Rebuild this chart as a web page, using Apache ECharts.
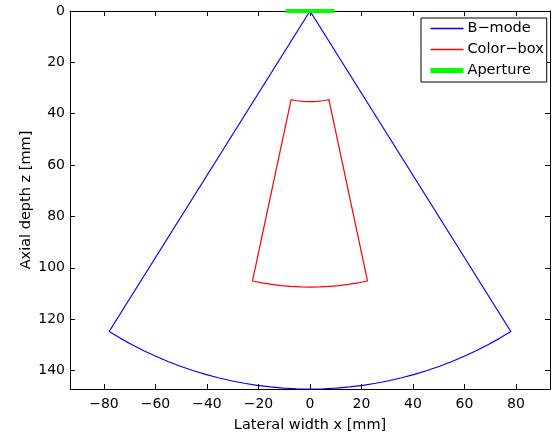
<!DOCTYPE html>
<html>
<head>
<meta charset="utf-8">
<script src="https://cdn.jsdelivr.net/npm/echarts@6/dist/echarts.min.js"></script>
<style>html,body{margin:0;padding:0;background:#fff}#c{width:557px;height:434px}</style>
</head>
<body>
<div id="c"></div>
<script>
// ---- data ----
const bmodeX = [0, -78.00, -73.60, -69.11, -64.53, -59.87, -55.14, -50.34, -45.49, -40.57, -35.61, -30.60, -25.56, -20.49, -15.39, -10.27, -5.14,
  0, 5.14, 10.27, 15.39, 20.49, 25.56, 30.60, 35.61, 40.57, 45.49, 50.34, 55.14, 59.87, 64.53, 69.11, 73.60, 78.00, 0];
const bmodeZ = [0, 124.83, 127.48, 129.97, 132.30, 134.47, 136.48, 138.32, 140.00, 141.50, 142.83, 143.98, 144.96, 145.77, 146.39, 146.84, 147.11,
  147.2, 147.11, 146.84, 146.39, 145.77, 144.96, 143.98, 142.83, 141.50, 140.00, 138.32, 136.48, 134.47, 132.30, 129.97, 127.48, 124.83, 0];
const colorBoxX = [-7.34, -22.35, -18.67, -14.96, -11.24, -7.50, -3.75, 0, 3.75, 7.50, 11.24, 14.96, 18.67, 22.35,
  7.34, 6.13, 4.91, 3.69, 2.46, 1.23, 0, -1.23, -2.46, -3.69, -4.91, -6.13, -7.34];
const colorBoxZ = [34.53, 105.15, 105.87, 106.45, 106.91, 107.24, 107.43, 107.5, 107.43, 107.24, 106.91, 106.45, 105.87, 105.15,
  34.53, 34.76, 34.96, 35.11, 35.21, 35.28, 35.3, 35.28, 35.21, 35.11, 34.96, 34.76, 34.53];
const apertureX = [-9.5, 9.5];
const apertureZ = [0, 0];
const xTicks = [-80, -60, -40, -20, 0, 20, 40, 60, 80];
const zTicks = [0, 20, 40, 60, 80, 100, 120, 140];
const seriesNames = ['B\u2212mode', 'Color\u2212box', 'Aperture'];
const seriesColors = ['#0000ff', '#ff0000', '#00ff00'];
const xRange = [-93.2, 93.2];
const zRange = [0, 147.2];

function pairs(xs, ys) { return xs.map((x, i) => [x, ys[i]]); }
const fmt = v => String(v).replace('-', '\u2212');
const FONT = 'DejaVu Sans';

const tickStyle = { show: true, inside: true, length: 5, lineStyle: { color: '#000', width: 1 } };
const lineStyleAxis = { show: true, onZero: false, lineStyle: { color: '#000', width: 1 } };

const chart = echarts.init(document.getElementById('c'), null, { renderer: 'canvas' });
chart.setOption({
  animation: false,
  backgroundColor: '#fff',
  grid: { left: 70, top: 11, right: 7, bottom: 45, containLabel: false, outerBoundsMode: 'none' },
  legend: {
    data: [
      { name: seriesNames[0], lineStyle: { width: 1.4, color: seriesColors[0] } },
      { name: seriesNames[1], lineStyle: { width: 1.4, color: seriesColors[1] } },
      { name: seriesNames[2], lineStyle: { width: 5, color: seriesColors[2] } }
    ],
    orient: 'vertical',
    left: 421, top: 18,
    itemWidth: 33, itemHeight: 14, itemGap: 6,
    padding: [3, 3, 4, 7],
    borderColor: '#000', borderWidth: 1, borderRadius: 0,
    backgroundColor: '#fff',
    itemStyle: { opacity: 0 },
    textStyle: { fontFamily: FONT, fontSize: 14.5, color: '#000', padding: [0, 0, 0, -1] }
  },
  xAxis: [{
    type: 'value', position: 'bottom', min: xRange[0], max: xRange[1],
    name: 'Lateral width x [mm]', nameLocation: 'middle', nameGap: 29, nameMoveOverlap: false,
    nameTextStyle: { fontFamily: FONT, fontSize: 14.5, color: '#000' },
    axisLine: lineStyleAxis,
    axisTick: Object.assign({ customValues: xTicks }, tickStyle),
    axisLabel: { customValues: xTicks, formatter: fmt, fontFamily: FONT, fontSize: 14, color: '#000', margin: 8 },
    splitLine: { show: false }
  }, {
    type: 'value', position: 'top', min: xRange[0], max: xRange[1],
    axisLine: lineStyleAxis,
    axisTick: Object.assign({ customValues: xTicks }, tickStyle),
    axisLabel: { show: false, customValues: xTicks },
    splitLine: { show: false }
  }],
  yAxis: [{
    type: 'value', position: 'left', inverse: true, min: zRange[0], max: zRange[1],
    name: 'Axial depth z [mm]', nameLocation: 'middle', nameGap: 36, nameRotate: 90, nameMoveOverlap: false,
    nameTextStyle: { fontFamily: FONT, fontSize: 14.5, color: '#000' },
    axisLine: lineStyleAxis,
    axisTick: Object.assign({ customValues: zTicks }, tickStyle),
    axisLabel: { customValues: zTicks, formatter: fmt, fontFamily: FONT, fontSize: 14, color: '#000', margin: 5 },
    splitLine: { show: false }
  }, {
    type: 'value', position: 'right', inverse: true, min: zRange[0], max: zRange[1],
    axisLine: lineStyleAxis,
    axisTick: Object.assign({ customValues: zTicks }, tickStyle),
    axisLabel: { show: false, customValues: zTicks },
    splitLine: { show: false }
  }],
  series: [{
    name: seriesNames[0], type: 'line', data: pairs(bmodeX, bmodeZ),
    symbol: 'none', showSymbol: false, clip: false,
    lineStyle: { color: seriesColors[0], width: 1.2 }, itemStyle: { color: seriesColors[0] }
  }, {
    name: seriesNames[1], type: 'line', data: pairs(colorBoxX, colorBoxZ),
    symbol: 'none', showSymbol: false, clip: false,
    lineStyle: { color: seriesColors[1], width: 1.2 }, itemStyle: { color: seriesColors[1] }
  }, {
    name: seriesNames[2], type: 'line', data: pairs(apertureX, apertureZ),
    symbol: 'none', showSymbol: false, clip: false,
    lineStyle: { color: seriesColors[2], width: 4 }, itemStyle: { color: seriesColors[2] }
  }]
});
</script>
</body>
</html>
